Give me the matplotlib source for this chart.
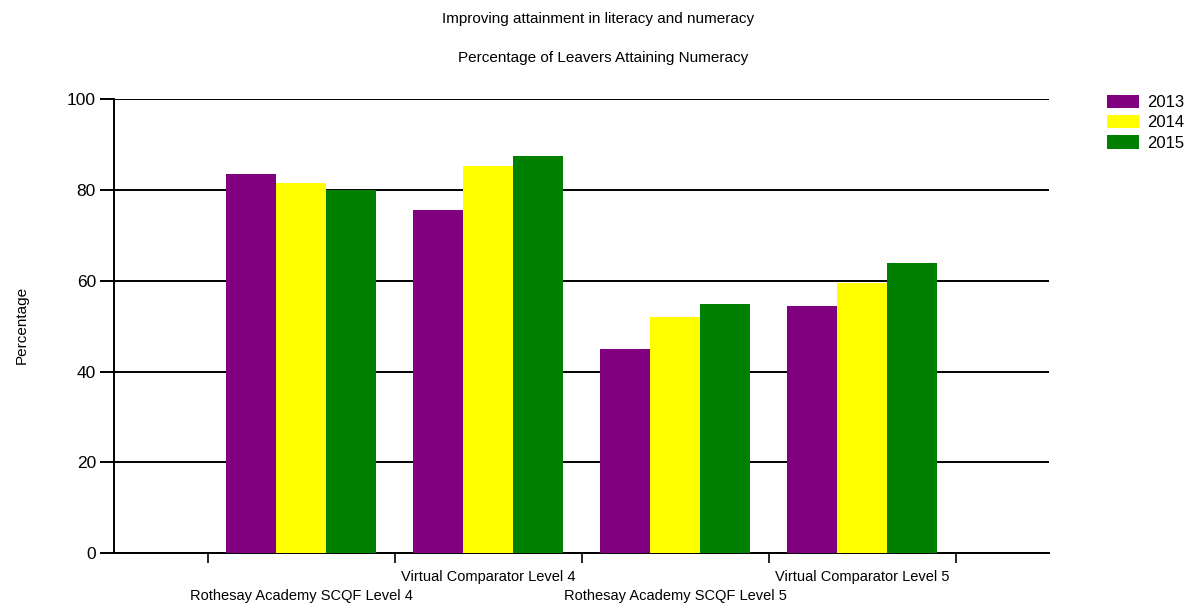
import matplotlib
matplotlib.use("Agg")
import matplotlib.pyplot as plt
import numpy as np

plt.rcParams['font.family'] = ['Liberation Sans', 'DejaVu Sans']

categories = ['Rothesay Academy SCQF Level 4', 'Virtual Comparator Level 4',
              'Rothesay Academy SCQF Level 5', 'Virtual Comparator Level 5']
years = ['2013', '2014', '2015']
vals_2013 = [83.6, 75.6, 44.9, 54.5]
vals_2014 = [81.6, 85.3, 52.1, 59.5]
vals_2015 = [80.0, 87.6, 54.8, 64.0]
colors = ['#800080', '#ffff00', '#008000']

fig = plt.figure(figsize=(11.89, 6.04), dpi=100)
ax = fig.add_axes([0.0959, 0.0844, 0.7866, 0.7512])

x = np.arange(1, len(categories) + 1)
w = 0.8 / 3
for i, (vals, c, lab) in enumerate(zip([vals_2013, vals_2014, vals_2015], colors, years)):
    ax.bar(x + (i - 1) * w, vals, w, color=c, label=lab, zorder=3)

ax.set_xlim(0, 5)
ax.set_ylim(0, 100)
ax.set_yticks(np.arange(0, 101, 20))
ax.yaxis.grid(True, color='black', linewidth=1.4, zorder=0)
ax.tick_params(axis='y', length=10, width=1.4, labelsize=12.5, pad=3)

# tick marks between groups, labels at group centers (staggered)
ax.set_xticks(np.arange(0.5, 5, 1.0))
ax.set_xticklabels([])
ax.tick_params(axis='x', length=7, width=1.2)
for i, cat in enumerate(categories):
    yoff = -0.053 if i % 2 == 1 else -0.094
    ax.text(x[i], yoff, cat, transform=ax.get_xaxis_transform(),
            ha='center', va='center', fontsize=10.5)

for s in ['top', 'right']:
    ax.spines[s].set_visible(False)
ax.spines['left'].set_linewidth(1.4)
ax.spines['bottom'].set_linewidth(1.4)

fig.text(0.0185, 0.462, 'Percentage', rotation=90, ha='center', va='center',
         fontsize=11)

fig.text(0.503, 0.969, 'Improving attainment in literacy and numeracy',
         ha='center', va='center', fontsize=11)
fig.text(0.507, 0.904, 'Percentage of Leavers Attaining Numeracy',
         ha='center', va='center', fontsize=11)

ax.legend(loc='upper left', bbox_to_anchor=(1.0545, 1.025), frameon=False,
          fontsize=12, handlelength=1.95, handleheight=0.85, labelspacing=0.3,
          handletextpad=0.45, borderaxespad=0)

fig.savefig('out.png', dpi=100)
